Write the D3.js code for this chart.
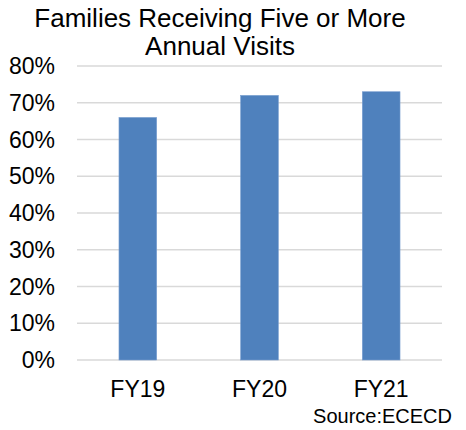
<!DOCTYPE html>
<html><head><meta charset="utf-8">
<script src="https://cdn.jsdelivr.net/npm/d3@7"></script>
<style>html,body{margin:0;padding:0;background:#fff;}</style>
</head><body>
<svg id="c" width="466" height="430"></svg>
<script>
const categories = ["FY19", "FY20", "FY21"];
const values = [66, 72, 73];
const yTicks = [0, 10, 20, 30, 40, 50, 60, 70, 80];
const titleLines = ["Families Receiving Five or More", "Annual Visits"];
const source = "Source:ECECD";

const svg = d3.select("#c");
const font = "'Liberation Sans', Arial, sans-serif";
const x = d3.scaleBand().domain(categories).range([77, 442]).paddingInner(0.69).paddingOuter(0.345);
const y = d3.scaleLinear().domain([0, 80]).range([360, 66]);

svg.append("g").selectAll("line").data(yTicks).join("line")
  .attr("x1", 77).attr("x2", 442)
  .attr("y1", d => y(d)).attr("y2", d => y(d))
  .attr("stroke", "#d9d9d9").attr("stroke-width", 1.5);

svg.append("g").selectAll("text").data(yTicks).join("text")
  .attr("x", 55).attr("y", d => y(d)).attr("dy", "0.35em")
  .attr("text-anchor", "end").attr("font-family", font).attr("font-size", 23)
  .attr("fill", "#000").text(d => d + "%");

svg.append("g").selectAll("rect").data(values).join("rect")
  .attr("x", (d, i) => x(categories[i])).attr("width", x.bandwidth())
  .attr("y", d => y(d)).attr("height", d => y(0) - y(d))
  .attr("fill", "#4f81bd").attr("stroke", "#7a9fd0").attr("stroke-width", 0.6);

svg.append("g").selectAll("text").data(categories).join("text")
  .attr("x", d => x(d) + x.bandwidth() / 2).attr("y", 397)
  .attr("text-anchor", "middle").attr("font-family", font).attr("font-size", 23)
  .attr("fill", "#000").text(d => d);

svg.append("g").selectAll("text").data(titleLines).join("text")
  .attr("x", 220).attr("y", (d, i) => 27 + i * 28)
  .attr("text-anchor", "middle").attr("font-family", font).attr("font-size", 26)
  .attr("fill", "#000").text(d => d);

svg.append("text").attr("x", 452).attr("y", 423).attr("text-anchor", "end")
  .attr("font-family", font).attr("font-size", 20).attr("fill", "#000").text(source);
</script>
</body></html>
